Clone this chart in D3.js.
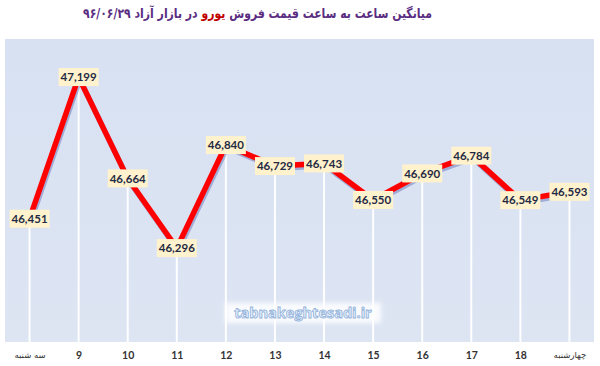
<!DOCTYPE html>
<html><head><meta charset="utf-8">
<script src="https://cdn.jsdelivr.net/npm/d3@7"></script>
<style>
html,body{margin:0;padding:0;background:#fff;}
#wrap{position:relative;width:600px;height:366px;overflow:hidden;}
#title{position:absolute;top:5px;left:0px;width:max-content;direction:rtl;font-family:"DejaVu Sans",sans-serif;font-weight:bold;font-size:13.5px;color:#5a2d82;white-space:nowrap;transform-origin:0 0;}
#title .hl{color:#c00000;}
svg{position:absolute;left:0;top:0;}
</style></head>
<body><div id="wrap"><svg id="chart" width="600" height="366"></svg>
<div id="title">میانگین ساعت به ساعت قیمت فروش <span class="hl">یورو</span> در بازار آزاد ۹۶/۰۶/۲۹</div></div>
<script>
const categories = ["سه شنبه","9","10","11","12","13","14","15","16","17","18","چهارشنبه"];
const values = [46451,47199,46664,46296,46840,46729,46743,46550,46690,46784,46549,46593];
const yDomain = [45800, 47400];

// fit title to reference width (x 83..432)
const t = document.getElementById("title");
const tw = t.getBoundingClientRect().width;
const s = 349 / tw;
t.style.transform = `translateX(83px) scaleX(${s})`;

const svg = d3.select("#chart");
const plot = {left:5, right:594, top:39, bottom:342};

const defs = svg.append("defs");
const grad = defs.append("linearGradient").attr("id","bg").attr("x1",0).attr("y1",0).attr("x2",0).attr("y2",1);
grad.append("stop").attr("offset","0%").attr("stop-color","#d8e1f2");
grad.append("stop").attr("offset","100%").attr("stop-color","#dde5f3");
const glow = defs.append("filter").attr("id","glow").attr("x","-20%").attr("y","-50%").attr("width","140%").attr("height","200%");
glow.append("feGaussianBlur").attr("stdDeviation",2.5);

svg.append("rect").attr("x",plot.left).attr("y",plot.top)
  .attr("width",plot.right-plot.left).attr("height",plot.bottom-plot.top)
  .attr("fill","url(#bg)");

const x = d3.scalePoint().domain(categories).range([plot.left, plot.right]).padding(0.5);
const y = d3.scaleLinear().domain(yDomain).range([plot.bottom, plot.top]);

const data = categories.map((c,i)=>({c, v:values[i]}));

// drop lines
svg.append("g").selectAll("line").data(data).join("line")
  .attr("x1",d=>x(d.c)).attr("x2",d=>x(d.c))
  .attr("y1",d=>y(d.v)).attr("y2",plot.bottom)
  .attr("stroke","#ffffff").attr("stroke-opacity",0.95).attr("stroke-width",2);

// watermark
const wm = svg.append("g").attr("transform","translate(303,313)");
wm.append("rect").attr("x",-78).attr("y",-10).attr("width",156).attr("height",20)
  .attr("fill","#ffffff").attr("opacity",0.85).attr("filter","url(#glow)");
wm.append("text").attr("text-anchor","middle").attr("dy","0.36em")
  .attr("font-family","'Open Sans',sans-serif").attr("font-weight","bold").attr("font-size",14.5)
  .attr("fill","#eef3fb").attr("stroke","#93b3dc").attr("stroke-width",0.9)
  .text("tabnakeghtesadi.ir");

// line with shadow
const lineGen = d3.line().x(d=>x(d.c)).y(d=>y(d.v)).curve(d3.curveLinear);
svg.append("path").datum(data).attr("d",lineGen)
  .attr("transform","translate(1.2,2.4)")
  .attr("fill","none").attr("stroke","#6f7fc0").attr("stroke-opacity",0.55)
  .attr("stroke-width",5.5).attr("stroke-linejoin","miter");
svg.append("path").datum(data).attr("d",lineGen)
  .attr("fill","none").attr("stroke","#ff0000")
  .attr("stroke-width",5.5).attr("stroke-linejoin","miter");

// labels
const fmt = d3.format(",");
const lab = svg.append("g").selectAll("g").data(data).join("g")
  .attr("transform",d=>`translate(${x(d.c)},${y(d.v)})`);
lab.append("rect").attr("x",-20).attr("y",-9).attr("width",40).attr("height",18).attr("fill","#fff2cc");
lab.append("text").attr("text-anchor","middle").attr("dy","0.36em")
  .attr("font-family","Lato,sans-serif").attr("font-weight","bold").attr("font-size",11.5)
  .attr("fill","#1f2a44").text(d=>fmt(d.v));

// x axis labels
const xAxis = d3.axisBottom(x).tickSize(0).tickPadding(10);
const ax = svg.append("g").attr("transform",`translate(0,${plot.bottom})`).call(xAxis);
ax.select(".domain").remove();
ax.selectAll("text")
  .attr("font-family",d=>isNaN(+d)?"'DejaVu Sans',sans-serif":"Lato,sans-serif")
  .attr("font-weight",d=>isNaN(+d)?"normal":"bold")
  .attr("font-size",d=>isNaN(+d)?8.5:10.5)
  .attr("fill","#333333");
</script></body></html>
